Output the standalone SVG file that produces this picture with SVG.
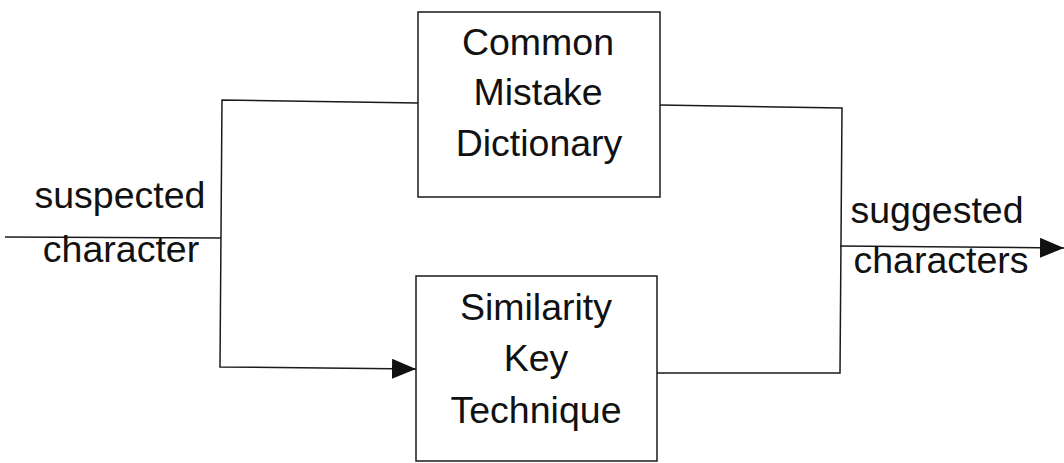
<svg xmlns="http://www.w3.org/2000/svg" width="1064" height="463" viewBox="0 0 1064 463">
  <style>
    .box { fill: #fff; stroke: #1a1a1a; stroke-width: 1.5; }
    .wire { fill: none; stroke: #1a1a1a; stroke-width: 1.5; }
    .lbl { font-family: "Liberation Sans", Arial, sans-serif; font-size: 37.5px; fill: #111; text-anchor: middle; }
  </style>
  <defs>
    <marker id="arrow" viewBox="0 0 24 20" refX="24" refY="10" markerWidth="24" markerHeight="20" markerUnits="userSpaceOnUse" orient="auto">
      <path d="M0,0 L24,10 L0,20 Z" fill="#111"/>
    </marker>
  </defs>
  <rect width="1064" height="463" fill="#fff"/>

  <g id="connectors">
    <!-- input feed splitting to both blocks -->
    <path class="wire" d="M5,237 L221,238"/>
    <path class="wire" d="M418,103 L222,100 L220,367 L416,369" marker-end="url(#arrow)"/>
    <!-- outputs merging to result -->
    <path class="wire" d="M660,105 L842,108 L840,373 L657,373"/>
    <path class="wire" d="M840,246 L1064,248" marker-end="url(#arrow)"/>
  </g>

  <g id="input-label">
    <text class="lbl" x="120" y="208">suspected</text>
    <text class="lbl" x="121" y="262">character</text>
  </g>

  <g id="output-label">
    <text class="lbl" x="937" y="223">suggested</text>
    <text class="lbl" x="941" y="273">characters</text>
  </g>

  <g id="common-mistake-dictionary">
    <rect class="box" x="418" y="12" width="242" height="185"/>
    <text class="lbl" x="538" y="55">Common</text>
    <text class="lbl" x="538" y="105">Mistake</text>
    <text class="lbl" x="539" y="156">Dictionary</text>
  </g>

  <g id="similarity-key-technique">
    <rect class="box" x="416" y="276" width="241" height="185"/>
    <text class="lbl" x="536" y="320">Similarity</text>
    <text class="lbl" x="536" y="371">Key</text>
    <text class="lbl" x="536" y="423">Technique</text>
  </g>
</svg>
